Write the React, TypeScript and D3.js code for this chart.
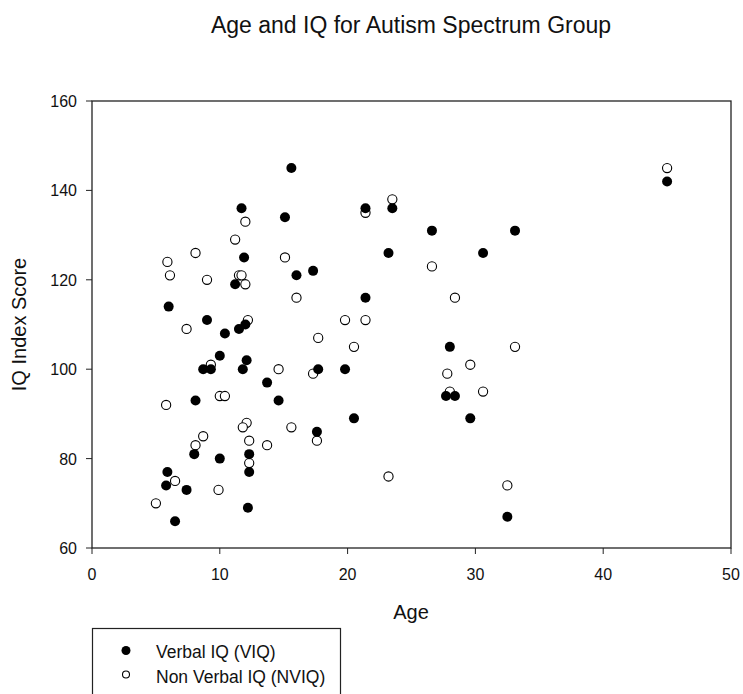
import React from 'react';
import * as d3 from 'd3';

// Verbal IQ (filled markers): [age, score]
const verbalIQ: [number, number][] = [
  [45.0, 142], [15.6, 145], [11.7, 136], [15.1, 134], [11.9, 125], [6.0, 114],
  [9.0, 111], [10.4, 108], [11.5, 109], [12.0, 110], [11.2, 119], [10.0, 103],
  [12.1, 102], [8.7, 100], [9.3, 100], [11.8, 100], [13.7, 97], [8.1, 93],
  [14.6, 93], [8.0, 81], [10.0, 80], [12.3, 81], [12.3, 77], [5.9, 77],
  [5.8, 74], [7.4, 73], [12.2, 69], [6.5, 66], [21.4, 136], [23.5, 136],
  [26.6, 131], [33.1, 131], [23.2, 126], [30.6, 126], [16.0, 121], [17.3, 122],
  [21.4, 116], [28.0, 105], [17.7, 100], [19.8, 100], [27.7, 94], [28.4, 94],
  [20.5, 89], [29.6, 89], [17.6, 86], [32.5, 67],
];

// Non verbal IQ (open markers): [age, score]
const nonVerbalIQ: [number, number][] = [
  [45.0, 145], [12.0, 133], [11.2, 129], [8.1, 126], [15.1, 125], [5.9, 124],
  [6.1, 121], [9.0, 120], [11.5, 121], [11.7, 121], [12.0, 119], [7.4, 109],
  [12.2, 111], [9.3, 101], [14.6, 100], [10.0, 94], [10.4, 94], [5.8, 92],
  [12.1, 88], [11.8, 87], [15.6, 87], [8.7, 85], [8.1, 83], [12.3, 84],
  [13.7, 83], [12.3, 79], [6.5, 75], [9.9, 73], [5.0, 70], [21.4, 135],
  [23.5, 138], [26.6, 123], [16.0, 116], [28.4, 116], [19.8, 111], [21.4, 111],
  [17.7, 107], [20.5, 105], [33.1, 105], [17.3, 99], [27.8, 99], [29.6, 101],
  [28.0, 95], [30.6, 95], [17.6, 84], [23.2, 76], [32.5, 74],
];

const xTicks = [0, 10, 20, 30, 40, 50];
const yTicks = [60, 80, 100, 120, 140, 160];
const legendLabels = ['Verbal IQ (VIQ)', 'Non Verbal IQ (NVIQ)'];

const W = 743;
const H = 694;
const left = 92;
const right = 731;
const top = 101;
const bottom = 548;
const font = 'Arial, "Liberation Sans", sans-serif';

export default function App() {
  const x = d3.scaleLinear().domain([0, 50]).range([left, right]);
  const y = d3.scaleLinear().domain([60, 160]).range([bottom, top]);

  return (
    <svg width={W} height={H} style={{ position: 'absolute', left: 0, top: 0 }} fontFamily={font} fill="#111">
      <rect width={W} height={H} fill="#fff" />
      <text x={411} y={33} textAnchor="middle" fontSize={23}>
        Age and IQ for Autism Spectrum Group
      </text>

      <rect x={left} y={top} width={right - left} height={bottom - top} fill="none" stroke="#222" strokeWidth={1.3} />

      {xTicks.map((t) => (
        <g key={'x' + t}>
          <line x1={x(t)} x2={x(t)} y1={bottom} y2={bottom + 6} stroke="#222" />
          <text x={x(t)} y={580} textAnchor="middle" fontSize={16}>{t}</text>
        </g>
      ))}
      {yTicks.map((t) => (
        <g key={'y' + t}>
          <line x1={left - 6} x2={left} y1={y(t)} y2={y(t)} stroke="#222" />
          <text x={77} y={y(t) + 6} textAnchor="end" fontSize={16}>{t}</text>
        </g>
      ))}

      <text x={411} y={619} textAnchor="middle" fontSize={20}>Age</text>
      <text transform={`translate(26,${(top + bottom) / 2}) rotate(-90)`} textAnchor="middle" fontSize={20}>
        IQ Index Score
      </text>

      {nonVerbalIQ.map((d, i) => (
        <circle key={'n' + i} cx={x(d[0])} cy={y(d[1])} r={4.6} fill="#fff" stroke="#000" strokeWidth={1.1} />
      ))}
      {verbalIQ.map((d, i) => (
        <circle key={'v' + i} cx={x(d[0])} cy={y(d[1])} r={5} fill="#000" />
      ))}

      <rect x={92.5} y={628.5} width={248} height={80} fill="#fff" stroke="#222" strokeWidth={1.2} />
      <circle cx={126} cy={650.5} r={4.5} fill="#000" />
      <text x={156} y={657.5} fontSize={17.5}>{legendLabels[0]}</text>
      <circle cx={126} cy={674.5} r={3.5} fill="#fff" stroke="#000" strokeWidth={1.1} />
      <text x={156} y={682.5} fontSize={17.5}>{legendLabels[1]}</text>
    </svg>
  );
}
